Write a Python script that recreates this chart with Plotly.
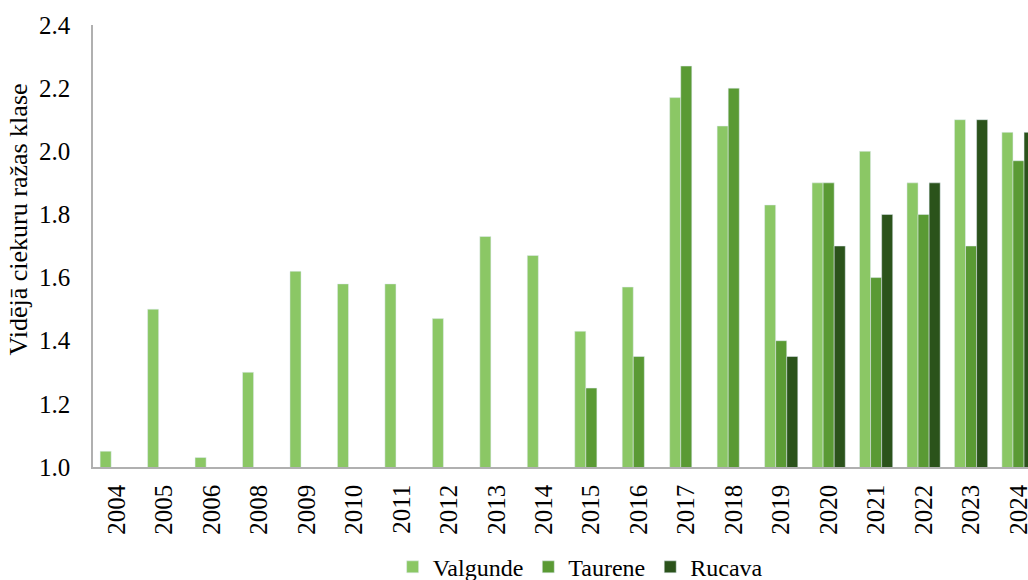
import plotly.graph_objects as go

years = ["2004", "2005", "2006", "2008", "2009", "2010", "2011", "2012", "2013", "2014",
         "2015", "2016", "2017", "2018", "2019", "2020", "2021", "2022", "2023", "2024"]
valgunde = [1.05, 1.50, 1.03, 1.30, 1.62, 1.58, 1.58, 1.47, 1.73, 1.67,
            1.43, 1.57, 2.17, 2.08, 1.83, 1.90, 2.00, 1.90, 2.10, 2.06]
taurene = [0, 0, 0, 0, 0, 0, 0, 0, 0, 0,
           1.25, 1.35, 2.27, 2.20, 1.40, 1.90, 1.60, 1.80, 1.70, 1.97]
rucava = [0, 0, 0, 0, 0, 0, 0, 0, 0, 0,
          0, 0, 0, 0, 1.35, 1.70, 1.80, 1.90, 2.10, 2.06]
y_title = "Vidējā ciekuru ražas klase"

font = "Liberation Serif, Times New Roman, serif"

fig = go.Figure()
fig.add_bar(x=years, y=valgunde, name="Valgunde", marker_color="#8BC765")
fig.add_bar(x=years, y=taurene, name="Taurene", marker_color="#5A9A34")
fig.add_bar(x=years, y=rucava, name="Rucava", marker_color="#2B531B")

fig.update_layout(
    width=1028, height=580,
    margin=dict(l=93, r=0, t=25, b=113),
    barmode="group", bargap=0.3, bargroupgap=0,
    plot_bgcolor="white", paper_bgcolor="white",
    font=dict(family=font, size=24, color="black"),
    showlegend=True,
    legend=dict(orientation="h", x=0.521, xanchor="center",
                yref="container", y=0.022, yanchor="middle",
                font=dict(family=font, size=24, color="black"), itemwidth=30,
                traceorder="normal"),
    xaxis=dict(type="category", range=[-0.5, 19.2], tickangle=-90, automargin=False,
               showline=True, linecolor="#B0B0B0", linewidth=1.5, ticklabelstandoff=6,
               showgrid=False, ticks="", tickfont=dict(family=font, size=25, color="black")),
    yaxis=dict(range=[1.0, 2.4], dtick=0.2, tickformat=".1f", automargin=False,
               showline=True, linecolor="#B0B0B0", linewidth=1.5, ticklabelstandoff=16,
               showgrid=False, zeroline=False, ticks="",
               tickfont=dict(family=font, size=25, color="black")),
    annotations=[dict(text=y_title, textangle=-90, xref="paper", yref="paper",
                      x=0, xshift=-75, xanchor="center", y=0.56, yanchor="middle",
                      showarrow=False, font=dict(family=font, size=26, color="black"))],
)

fig.write_html("out.html", config={"displayModeBar": False},
               post_script="document.body.style.margin='0';document.body.style.overflow='hidden';")
